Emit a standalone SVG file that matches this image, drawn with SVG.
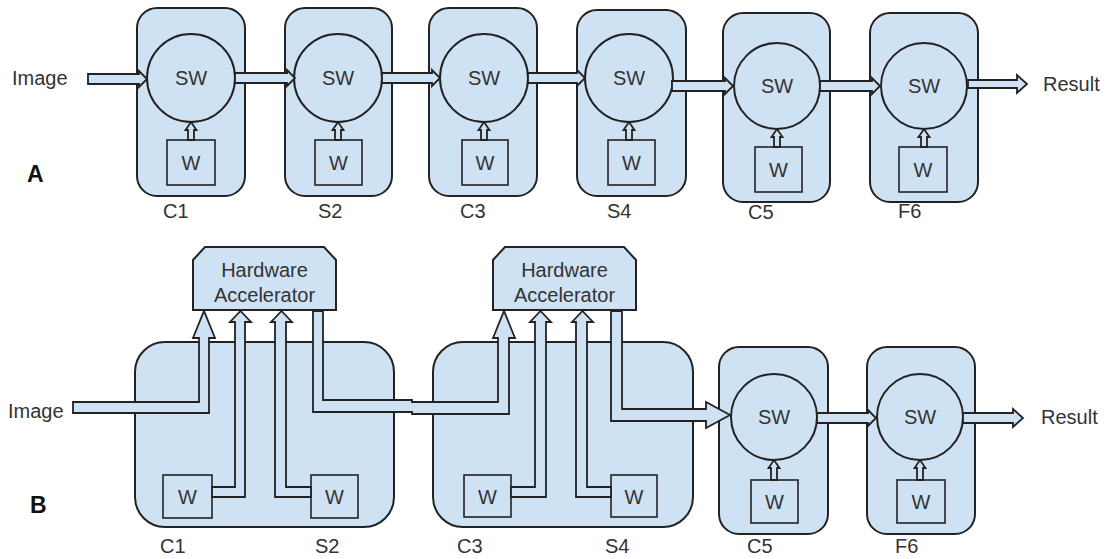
<svg xmlns="http://www.w3.org/2000/svg" width="1115" height="559" viewBox="0 0 1115 559">
<style>
.box{fill:#cfe2f3;stroke:#222;stroke-width:2}
.sw{fill:#cfe2f3;stroke:#222;stroke-width:2}
.w{fill:#cfe2f3;stroke:#222;stroke-width:1.6}
.pipe{fill:#cfe2f3;stroke:#222;stroke-width:1.8;stroke-linejoin:miter}
.t{font-family:"Liberation Sans",Arial,sans-serif;font-size:20px;fill:#333}
.m{text-anchor:middle}
.big{font-family:"Liberation Sans",Arial,sans-serif;font-size:23px;font-weight:bold;fill:#111}
</style>
<rect width="1115" height="559" fill="#fff"/>
<!-- Panel A -->
<g id="A-C1">
<rect class="box" x="137" y="8" width="108" height="188" rx="20"/>
<circle class="sw" cx="191" cy="78" r="44"/>
<text class="t m" x="191" y="85">SW</text>
<rect class="w" x="167" y="140" width="48" height="45"/>
<text class="t m" x="191" y="170">W</text>
<text class="t" x="163" y="218">C1</text>
</g>
<g id="A-S2">
<rect class="box" x="285" y="8" width="107" height="188" rx="20"/>
<circle class="sw" cx="338" cy="78" r="44"/>
<text class="t m" x="338" y="85">SW</text>
<rect class="w" x="315" y="140" width="47" height="45"/>
<text class="t m" x="338.5" y="170">W</text>
<text class="t" x="318" y="218">S2</text>
</g>
<g id="A-C3">
<rect class="box" x="429" y="8" width="108" height="188" rx="20"/>
<circle class="sw" cx="484" cy="78" r="44"/>
<text class="t m" x="484" y="85">SW</text>
<rect class="w" x="462" y="140" width="46" height="45"/>
<text class="t m" x="485" y="170">W</text>
<text class="t" x="460" y="218">C3</text>
</g>
<g id="A-S4">
<rect class="box" x="577" y="10" width="109" height="186" rx="20"/>
<circle class="sw" cx="629" cy="78" r="44"/>
<text class="t m" x="629" y="85">SW</text>
<rect class="w" x="608" y="140" width="47" height="45"/>
<text class="t m" x="631.5" y="170">W</text>
<text class="t" x="607" y="218">S4</text>
</g>
<g id="A-C5">
<rect class="box" x="723" y="13" width="107" height="189" rx="20"/>
<circle class="sw" cx="777" cy="86" r="43"/>
<text class="t m" x="777" y="93">SW</text>
<rect class="w" x="755" y="147" width="47" height="45"/>
<text class="t m" x="778.5" y="177">W</text>
<text class="t" x="748" y="219">C5</text>
</g>
<g id="A-F6">
<rect class="box" x="870" y="13" width="108" height="189" rx="20"/>
<circle class="sw" cx="924" cy="86" r="43"/>
<text class="t m" x="924" y="93">SW</text>
<rect class="w" x="899" y="147" width="48" height="45"/>
<text class="t m" x="923" y="177">W</text>
<text class="t" x="898" y="218">F6</text>
</g>
<text class="t" x="12" y="85">Image</text>
<text class="t" x="1043" y="91">Result</text>
<text class="big" x="27" y="182">A</text>
<!-- Panel B -->
<g id="B-C1S2">
<rect class="box" x="135" y="342" width="259" height="185" rx="30"/>
<rect class="w" x="163" y="475" width="49" height="43"/>
<text class="t m" x="187.5" y="504">W</text>
<rect class="w" x="311" y="475" width="47" height="43"/>
<text class="t m" x="334.5" y="504">W</text>
<text class="t" x="160" y="553">C1</text>
<text class="t" x="315" y="553">S2</text>
</g>
<g id="B-C3S4">
<rect class="box" x="433" y="342" width="260" height="185" rx="30"/>
<rect class="w" x="464" y="475" width="47" height="42"/>
<text class="t m" x="487.5" y="504">W</text>
<rect class="w" x="611" y="475" width="46" height="42"/>
<text class="t m" x="634" y="504">W</text>
<text class="t" x="457" y="553">C3</text>
<text class="t" x="605" y="553">S4</text>
</g>
<g id="B-HW1">
<path class="box" d="M193,310 V260 L205,247 H324 L336,260 V310 Z"/>
<text class="t m" x="264.5" y="277">Hardware</text>
<text class="t m" x="264.5" y="302">Accelerator</text>
</g>
<g id="B-HW2">
<path class="box" d="M493,310 V260 L505,247 H624 L636,260 V310 Z"/>
<text class="t m" x="564.5" y="277">Hardware</text>
<text class="t m" x="564.5" y="302">Accelerator</text>
</g>
<g id="B-C5">
<rect class="box" x="719" y="347" width="109" height="187" rx="20"/>
<circle class="sw" cx="774" cy="417" r="43"/>
<text class="t m" x="774" y="424">SW</text>
<rect class="w" x="751" y="480" width="47" height="43"/>
<text class="t m" x="774.5" y="509">W</text>
<text class="t" x="747" y="553">C5</text>
</g>
<g id="B-F6">
<rect class="box" x="867" y="347" width="108" height="187" rx="20"/>
<circle class="sw" cx="920" cy="417" r="43"/>
<text class="t m" x="920" y="424">SW</text>
<rect class="w" x="897" y="480" width="48" height="43"/>
<text class="t m" x="921" y="509">W</text>
<text class="t" x="895" y="553">F6</text>
</g>
<text class="t" x="8" y="418">Image</text>
<text class="t" x="1041" y="424">Result</text>
<text class="big" x="30" y="513">B</text>
<!-- Connectors -->
<g id="connectors">
<path class="pipe" d="M88,74 H139 V71 L147,79 L139,87 V84 H88 Z"/>
<path class="pipe" d="M235,73 H287 V70 L295,78 L287,86 V83 H235 Z"/>
<path class="pipe" d="M382,73 H432 V70 L440,78 L432,86 V83 H382 Z"/>
<path class="pipe" d="M528,73 H577 V70 L585,78 L577,86 V83 H528 Z"/>
<path class="pipe" d="M672,81 H725 V78 L733,86 L725,94 V91 H672 Z"/>
<path class="pipe" d="M820,81 H872 V78 L880,86 L872,94 V91 H820 Z"/>
<path class="pipe" d="M968,80 H1017 V75 L1027,84 L1017,93 V88 H968 Z"/>
<path class="pipe" d="M188,140 V130 H185.5 L191,122 L196.5,130 H194 V140 Z"/>
<path class="pipe" d="M335,140 V130 H332.5 L338,122 L343.5,130 H341 V140 Z"/>
<path class="pipe" d="M481,140 V130 H478.5 L484,122 L489.5,130 H487 V140 Z"/>
<path class="pipe" d="M626,140 V130 H623.5 L629,122 L634.5,130 H632 V140 Z"/>
<path class="pipe" d="M774,147 V137 H771.5 L777,129 L782.5,137 H780 V147 Z"/>
<path class="pipe" d="M921,147 V137 H918.5 L924,129 L929.5,137 H927 V147 Z"/>
<path class="pipe" d="M73,402 H199 V338 H193 L204,311 L215,338 H209 V413 H73 Z"/>
<path class="pipe" d="M212,487 H235 V322 H230 L240.5,311 L251,322 H245 V497 H212 Z"/>
<path class="pipe" d="M311,487 H286 V322 H292 L281.5,311 L271,322 H275 V497 H311 Z"/>
<path class="pipe" d="M313,311 V412 H412 V414 H509 V338 H515 L504,311 L493,338 H498 V402 H412 V400 H323 V311 Z"/>
<path class="pipe" d="M511,487 H535 V322 H530 L540.5,311 L551,322 H546 V497 H511 Z"/>
<path class="pipe" d="M611,487 H587 V322 H593 L582.5,311 L572,322 H576 V497 H611 Z"/>
<path class="pipe" d="M611,311 V421 H706 V428 L730,415 L706,402 V409 H622 V311 Z"/>
<path class="pipe" d="M817,413 H868 V410 L876,418 L868,426 V423 H817 Z"/>
<path class="pipe" d="M963,413 H1013 V409 L1023,418 L1013,427 V423 H963 Z"/>
<path class="pipe" d="M771,480 V468 H768.5 L774,460 L779.5,468 H777 V480 Z"/>
<path class="pipe" d="M917,480 V468 H914.5 L920,460 L925.5,468 H923 V480 Z"/>
</g>
</svg>
